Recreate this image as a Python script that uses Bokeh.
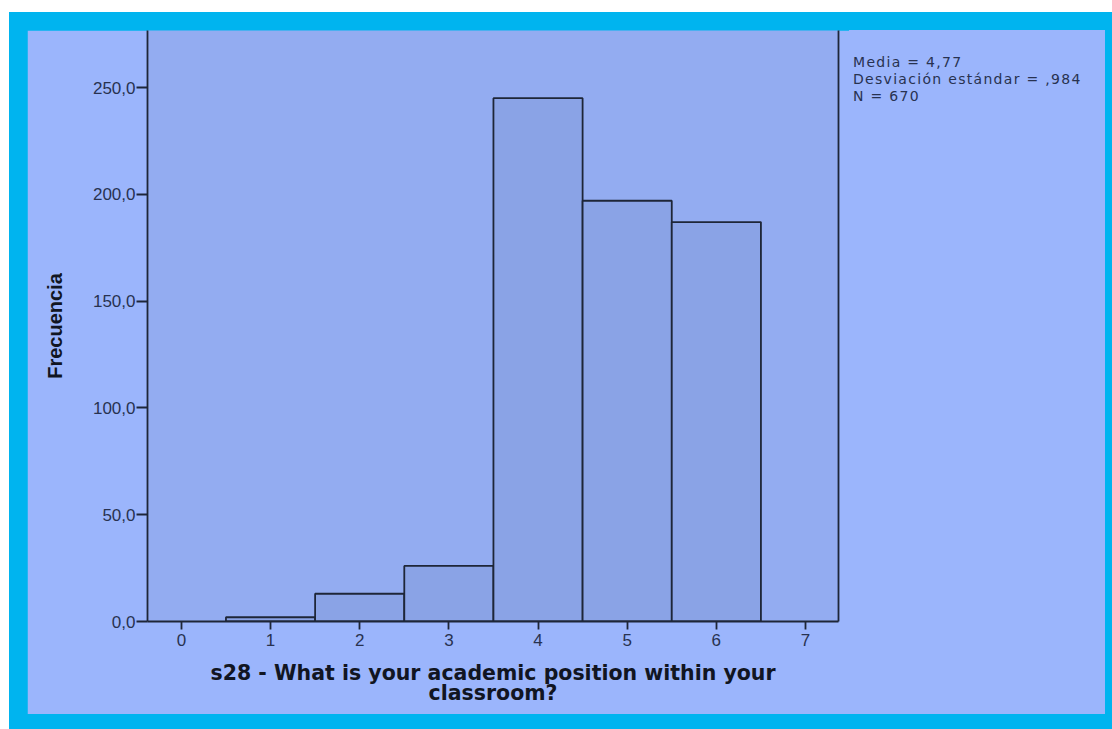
from bokeh.plotting import figure
from bokeh.layouts import column, row
from bokeh.models import Range1d, LinearAxis, FixedTicker, CustomJSTickFormatter, Div
from bokeh.embed import file_html
from bokeh.resources import INLINE

# data
positions = [1, 2, 3, 4, 5, 6]
frequencies = [2, 13, 26, 245, 197, 187]
x_ticks = [0, 1, 2, 3, 4, 5, 6, 7]
y_ticks = [0, 50, 100, 150, 200, 250]
stats_lines = ["Media = 4,77", "Desviación estándar = ,984", "N = 670"]
x_label = "s28 - What is your academic position within your\nclassroom?"
y_label = "Frecuencia"

OUTER = "#9bb5fc"
FRAME = "#93acf1"
BAR = "#8aa3e6"
INK = "#1e2638"
TXT = "#283250"
CYAN = "#00b4ef"

p = figure(width=822, height=684, output_backend="svg", toolbar_location=None,
           x_range=Range1d(-0.38, 7.37), y_range=Range1d(0, 276.7),
           min_border_left=120, min_border_right=11, min_border_top=0, min_border_bottom=93)
p.border_fill_color = OUTER
p.background_fill_color = FRAME
p.outline_line_color = None
p.xgrid.grid_line_color = None
p.ygrid.grid_line_color = None

p.vbar(x=positions, top=frequencies, width=1.0, fill_color=BAR, line_color=INK, line_width=1.8)

for ax in (p.xaxis[0], p.yaxis[0]):
    ax.axis_line_color = INK
    ax.axis_line_width = 1.8
    ax.major_tick_line_color = INK
    ax.major_tick_line_width = 1.8
    ax.major_tick_in = 0
    ax.minor_tick_line_color = None
    ax.major_label_text_font = "Liberation Sans"
    ax.major_label_text_font_size = "17px"
    ax.major_label_text_color = TXT
    ax.axis_label_text_font_style = "bold"
    ax.axis_label_text_color = "#111522"

p.xaxis.major_tick_out = 8
p.yaxis.major_tick_out = 11
p.xaxis.ticker = FixedTicker(ticks=x_ticks)
p.yaxis.ticker = FixedTicker(ticks=y_ticks)
p.yaxis.formatter = CustomJSTickFormatter(code="return tick.toFixed(1).replace('.', ',');")
p.xaxis.major_label_standoff = 4
p.yaxis.major_label_standoff = 1
p.xaxis.axis_label = x_label
p.xaxis.axis_label_text_font = "DejaVu Sans"
p.xaxis.axis_label_text_font_size = "20.5px"
p.xaxis.axis_label_text_line_height = 0.87
p.xaxis.axis_label_standoff = 12
p.yaxis.axis_label = y_label
p.yaxis.axis_label_text_font = "Liberation Sans"
p.yaxis.axis_label_text_font_size = "20px"
p.yaxis.axis_label_standoff = 24

right = LinearAxis(ticker=FixedTicker(ticks=[]), axis_line_color=INK, axis_line_width=1.8,
                   major_tick_line_color=None, minor_tick_line_color=None,
                   major_label_text_font_size="0px")
p.add_layout(right, "right")

stats_html = ('<div style="font-family:\'DejaVu Sans\';font-size:14px;line-height:17px;'
              'letter-spacing:1.3px;color:%s;padding:24px 0 0 4px;white-space:nowrap">%s</div>'
              % (TXT, "<br>".join(stats_lines)))
stats = Div(text=stats_html, width=256, height=684,
            styles={"background-color": OUTER, "margin": "0", "padding": "0"})

layout = column(row(p, stats, spacing=0),
                styles={"background-color": CYAN, "padding": "18px 7px 15px 18px",
                        "margin": "12px 0 0 9px"})

open("out.html", "w").write(file_html(layout, INLINE))
